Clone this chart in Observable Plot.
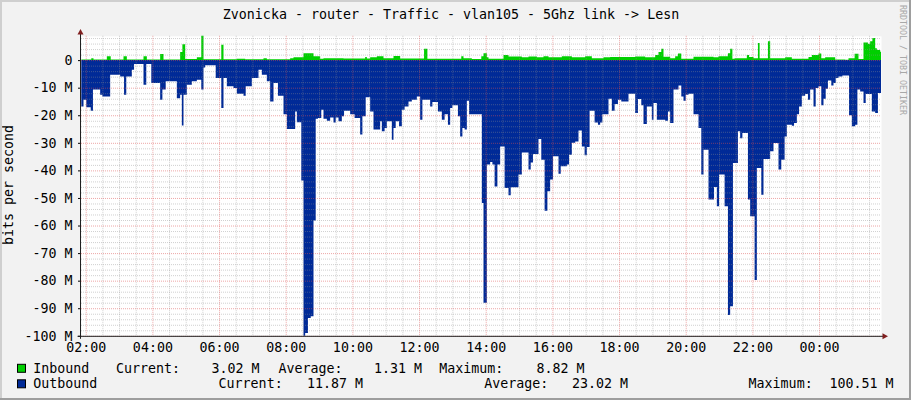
<!DOCTYPE html>
<html>
<head>
<meta charset="utf-8">
<script src="https://cdn.jsdelivr.net/npm/d3@7"></script>
<script src="https://cdn.jsdelivr.net/npm/@observablehq/plot@0.6"></script>
<style>
html, body { margin: 0; padding: 0; background: #f2f2f2; }
#wrap { position: relative; width: 911px; height: 400px; background: #f2f2f2; overflow: hidden; }
#wrap > svg { position: absolute; left: 0; display: block; }
</style>
</head>
<body>
<div id="wrap"></div>
<script>
// ---------- data ----------
const chartTitle = "Zvonicka - router - Traffic - vlan105 - 5Ghz link -> Lesn";
const yAxisTitle = "bits per second";
const watermark = "RRDTOOL / TOBI OETIKER";
const seriesNames = ["Inbound", "Outbound"];
const seriesColors = ["#00cf00", "#002a97"];
const statLabels = ["Current:", "Average:", "Maximum:"];
const inboundStats = [3.02, 1.31, 8.82];     // M
const outboundStats = [11.87, 23.02, 100.51]; // M
const windowStart = "01:51:30"; // 24 h window
const xTickLabels = ["02:00","04:00","06:00","08:00","10:00","12:00","14:00","16:00","18:00","20:00","22:00","00:00"];
const yMajorValues = [0,-10,-20,-30,-40,-50,-60,-70,-80,-90,-100]; // M
const yTop = 8.82; // M

// Inbound (Mbit/s), step changes
const inTimes = ["01:52","02:10","02:14","02:38","02:45","03:08","03:14","03:44","03:50","04:14","04:20","04:50","04:54","04:59","05:20","05:28","05:32","06:04","06:08","06:32","06:47","07:20","07:26","08:08","08:14","08:32","08:50","09:02","09:08","09:44","10:23","10:26","10:32","10:44","10:56","11:14","11:26","12:09","12:15","13:16","13:20","13:35","13:52","13:56","14:02","14:05","14:32","14:41","15:05","15:17","15:32","15:44","15:53","16:17","16:35","16:59","17:11","17:32","17:44","18:29","18:47","19:05","19:11","19:16","19:20","19:32","19:41","19:46","19:52","20:14","20:50","20:59","21:16","21:20","21:24","21:28","21:50","21:54","22:02","22:10","22:13","22:28","22:32","22:59","23:11","23:41","23:47","23:59","00:04","00:11","00:29","00:47","00:53","01:04","01:11","01:20","01:28","01:32","01:36","01:41","01:44","01:50"];
const inValues = [0.25,0.7,0.25,1.4,0.25,1.4,0.25,1.4,0.25,2.2,0.25,2.9,5.8,0.4,1,8.82,0.3,5.6,0.3,0.5,0.3,0.7,0.3,0.7,1,2.5,1.4,0.5,0.7,0.6,1.1,0.6,1,1.4,0.7,1.5,0.6,4.1,0.5,1.4,0.7,0.4,1.4,2.5,1,0.5,1.9,1.3,1,1.3,1,1.4,1,1.4,1,1.4,0.7,1,1.1,1.3,1,1.9,2.9,4.1,1.2,0.7,1.4,2.4,0.5,1.2,1,1.4,2.5,4.1,0.5,0.7,1.9,1.1,0.7,6.2,0.7,6.8,0.7,1,0.5,1.1,1.9,2.4,0.7,1,0.25,0.1,0.7,2.3,0.4,6.4,5.9,6.8,8,4.3,3.7,3.02];

// Outbound (Mbit/s), step changes (drawn below zero)
const outTimes = ["01:52","01:56","02:01","02:09","02:13","02:26","02:30","02:44","03:02","03:09","03:13","03:23","03:27","03:44","03:49","03:58","04:14","04:18","04:24","04:44","04:50","04:53","04:56","05:02","05:11","05:20","05:28","05:32","05:35","05:54","06:04","06:08","06:14","06:26","06:32","06:44","06:48","06:59","07:11","07:17","07:26","07:32","07:38","07:46","07:56","08:02","08:17","08:20","08:28","08:32","08:35","08:40","08:45","08:50","08:54","08:58","09:04","09:08","09:14","09:20","09:26","09:30","09:35","09:41","09:45","09:56","10:04","10:14","10:18","10:24","10:32","10:38","10:50","10:53","10:58","11:02","11:11","11:14","11:18","11:24","11:29","11:34","11:41","11:47","11:56","12:02","12:06","12:20","12:24","12:34","12:41","12:46","12:52","12:56","13:00","13:10","13:14","13:18","13:22","13:26","13:30","13:53","13:56","14:02","14:08","14:12","14:16","14:21","14:26","14:34","14:41","14:45","14:59","15:05","15:17","15:21","15:25","15:35","15:40","15:46","15:51","15:56","16:01","16:11","16:15","16:26","16:30","16:35","16:41","16:47","16:53","16:58","17:02","17:07","17:16","17:22","17:26","17:30","17:41","17:47","17:52","17:58","18:04","18:17","18:29","18:34","18:40","18:44","18:50","18:59","19:02","19:08","19:23","19:28","19:32","19:38","19:47","19:52","19:56","20:00","20:05","20:14","20:23","20:28","20:32","20:41","20:51","20:56","21:00","21:10","21:16","21:20","21:25","21:34","21:38","21:42","21:52","21:56","22:04","22:08","22:16","22:20","22:32","22:38","22:47","22:52","22:58","23:02","23:11","23:15","23:20","23:24","23:29","23:35","23:40","23:44","23:50","23:54","23:59","00:04","00:08","00:12","00:16","00:22","00:26","00:30","00:35","00:42","00:54","00:59","01:05","01:09","01:14","01:20","01:24","01:35","01:41","01:46"];
const outValues = [16.8,14.4,17.1,18.4,10.7,12.6,13.2,5.3,5.9,12.6,5.9,3.5,1.4,8.9,1.4,8.3,14.4,10.7,7.7,13.8,12.6,23.7,12.6,8.9,7.7,7.1,10.7,2.7,1.9,6.5,17.4,6.5,9.5,10.1,12.2,12.9,9.5,6.5,3.5,5.3,7.7,15,8.3,12.9,19.6,25,18.6,22.5,43.7,100.5,99,93.5,92.9,58.2,21.3,21,18,21.3,22,20.8,22.6,20.8,22.2,20.4,18.4,19.6,21,27,20.4,13.5,18.6,25.2,22.2,25.8,24.6,22.2,28.9,24.6,22.2,24,18,16.8,15,14.4,13.2,21.6,14.4,16.8,15.2,18.6,21.6,19.6,23.4,17.4,16.4,20.4,27.7,24.6,25.2,14.7,19.6,51.8,88,37.9,37,37.9,45.8,37.9,31.3,46.4,49,46.1,41.5,33.5,39.7,37.1,34.1,28.6,36.1,54.6,47.6,43.3,34.9,41.2,38.5,37.9,34.3,30,29.5,25.5,31.3,34.5,31.5,18.4,22.6,23.4,22.6,19.6,14,18.4,15.9,14.4,15,12.2,19.2,14.1,16.4,23.2,16.8,21.6,15.6,21.6,22,18.6,22.8,10.7,9.2,13.2,14.7,12.6,12.2,19.6,24.6,41.5,32.5,50.6,46,53,41.5,53,92.5,89.3,37.3,25.8,28.3,26.4,50.6,56.6,79.8,39.1,48.8,35.9,33.1,30.1,39.7,36.1,27.7,23.4,23.8,22.8,19.6,16.8,12.9,12.3,14.4,10.7,16.8,10.1,9.5,16.4,14,10.4,7.4,9.2,8.3,6.5,5.9,5.6,20,24,23.4,10.7,11.4,15.6,12.3,18.6,19.2,11.9];

// ---------- helpers ----------
const M = 1e6;
const base = Date.UTC(2020, 0, 1);
function toMin(s) { const p = s.split(":").map(Number); return p[0] * 60 + p[1] + (p[2] || 0) / 60; }
const t0 = new Date(base + toMin(windowStart) * 6e4);
const t1 = new Date(+t0 + 864e5);
function parseTimes(list) {
  let day = 0, prev = -1;
  return list.map(s => {
    const m = toMin(s);
    if (m < prev) day = 1;
    prev = m;
    return new Date(base + day * 864e5 + m * 6e4);
  });
}
function series(times, values) {
  const ts = parseTimes(times);
  const rows = ts.map((t, i) => ({t, v: values[i] * M}));
  rows.push({t: t1, v: values[values.length - 1] * M});
  return rows;
}
const inData = series(inTimes, inValues);
const outData = series(outTimes, outValues);
const xMajor = parseTimes(xTickLabels);
const xMajorSet = new Set(xMajor.map(Number));
const xMinor = d3.utcMinute.every(30).range(t0, t1).filter(d => !xMajorSet.has(+d));
const yMajor = yMajorValues.map(v => v * M);
const yMinor = d3.range(-100, yTop, 2).filter(v => v % 10 !== 0).map(v => v * M);

const gridGray = "rgba(143,143,143,0.42)";
const gridRed = "rgba(222,79,79,0.5)";
const font = '"DejaVu Sans Mono", monospace';
const fs = "13.3px";

// ---------- layout constants ----------
const plotTop = 24;      // page y of plot SVG
const mL = 81, mR = 30, mT = 11.8, mB = 24.2, plotH = 336;

// ---------- title ----------
const wrap = d3.select("#wrap");
const titleSvg = wrap.append("svg").attr("width", 911).attr("height", 24).style("top", "0px");
titleSvg.append("text").attr("x", 451).attr("y", 19).attr("text-anchor", "middle")
  .attr("font-family", font).attr("font-size", fs).attr("fill", "#000").text(chartTitle);

// ---------- plot ----------
const plot = Plot.plot({
  width: 911,
  height: plotH,
  marginLeft: mL, marginRight: mR, marginTop: mT, marginBottom: mB,
  style: {fontFamily: font, fontSize: fs, background: "transparent", color: "#000", overflow: "visible"},
  x: {type: "utc", domain: [t0, t1], ticks: xMajor, tickFormat: d3.utcFormat("%H:%M"), tickSize: 0, tickPadding: 6, label: null},
  y: {domain: [-100 * M, yTop * M], ticks: yMajor, tickFormat: v => v === 0 ? "0" : `${Math.round(v / M)} M`, tickSize: 3, tickPadding: 6, label: null},
  marks: [
    Plot.frame({fill: "#ffffff", stroke: "none"}),
    Plot.areaY(inData, {x: "t", y1: 0, y2: "v", curve: "step-after", fill: seriesColors[0]}),
    Plot.areaY(outData, {x: "t", y1: 0, y2: d => -d.v, curve: "step-after", fill: seriesColors[1], clip: true}),
    Plot.ruleX(xMinor, {stroke: gridGray, strokeDasharray: "1,1"}),
    Plot.ruleY(yMinor, {stroke: gridGray, strokeDasharray: "1,1"}),
    Plot.ruleX(xMajor, {stroke: gridRed, strokeDasharray: "1,1"}),
    Plot.ruleY(yMajor, {stroke: gridRed, strokeDasharray: "1,1"})
  ]
});
const plotSvg = d3.select(plot);
plotSvg.style("position", "absolute").style("left", "0px").style("top", plotTop + "px");
wrap.node().appendChild(plot);

// axes lines and arrows
const yb = plotH - mB;
const axisCol = "#1f1f1f", arrowCol = "#801f1f";
plotSvg.append("line").attr("x1", 77.5).attr("x2", 883).attr("y1", yb + 0.5).attr("y2", yb + 0.5)
  .attr("stroke", axisCol).attr("stroke-width", 1);
plotSvg.append("line").attr("x1", 80.5).attr("x2", 80.5).attr("y1", 8).attr("y2", yb + 3)
  .attr("stroke", axisCol).attr("stroke-width", 1);
plotSvg.append("path").attr("d", `M77.5,${10.5}L83.5,${10.5}L80.5,${5}Z`).attr("fill", arrowCol);
plotSvg.append("path").attr("d", `M882.5,${yb + 0.5 - 3}L882.5,${yb + 0.5 + 3}L888,${yb + 0.5}Z`).attr("fill", arrowCol);
// y axis title
plotSvg.append("text").attr("transform", `translate(13,${185 - plotTop}) rotate(-90)`)
  .attr("text-anchor", "middle").attr("font-family", font).attr("font-size", fs).attr("fill", "#000").text(yAxisTitle);

// ---------- legend ----------
const legTop = 360;
const legSvg = wrap.append("svg").attr("width", 911).attr("height", 40).style("top", legTop + "px");
const rows = [
  {name: seriesNames[0], color: seriesColors[0], stats: inboundStats, base: 372.5,
   lx: [116, 278.5, 439.2], vx: [259.6, 422, 584.6]},
  {name: seriesNames[1], color: seriesColors[1], stats: outboundStats, base: 388,
   lx: [218.6, 484.3, 748.6], vx: [363, 628, 893.6]}
];
rows.forEach(r => {
  const y = r.base - legTop;
  legSvg.append("rect").attr("x", 17.5).attr("y", y - 8.2).attr("width", 8).attr("height", 8)
    .attr("fill", r.color).attr("stroke", "#000").attr("stroke-width", 1);
  const txt = (x, s, anchor) => legSvg.append("text").attr("x", x).attr("y", y)
    .attr("text-anchor", anchor).attr("font-family", font).attr("font-size", fs)
    .attr("fill", "#000").attr("xml:space", "preserve").text(s);
  txt(33.3, r.name, "start");
  r.stats.forEach((v, i) => {
    txt(r.lx[i], statLabels[i], "start");
    txt(r.vx[i], `${v.toFixed(2)} M`, "end");
  });
});

// ---------- frame and watermark overlay ----------
const ov = wrap.append("svg").attr("width", 911).attr("height", 400).style("top", "0px").style("pointer-events", "none");
ov.append("rect").attr("x", 0).attr("y", 0).attr("width", 911).attr("height", 2).attr("fill", "#cfcfcf");
ov.append("rect").attr("x", 0).attr("y", 0).attr("width", 2).attr("height", 400).attr("fill", "#cfcfcf");
ov.append("rect").attr("x", 909).attr("y", 0).attr("width", 2).attr("height", 400).attr("fill", "#9e9e9e");
ov.append("rect").attr("x", 0).attr("y", 398).attr("width", 911).attr("height", 2).attr("fill", "#9e9e9e");
ov.append("text").attr("transform", "translate(900,5) rotate(90)")
  .attr("font-family", font).attr("font-size", "8.3px").attr("fill", "#a8a8a8").text(watermark);
</script>
</body>
</html>
